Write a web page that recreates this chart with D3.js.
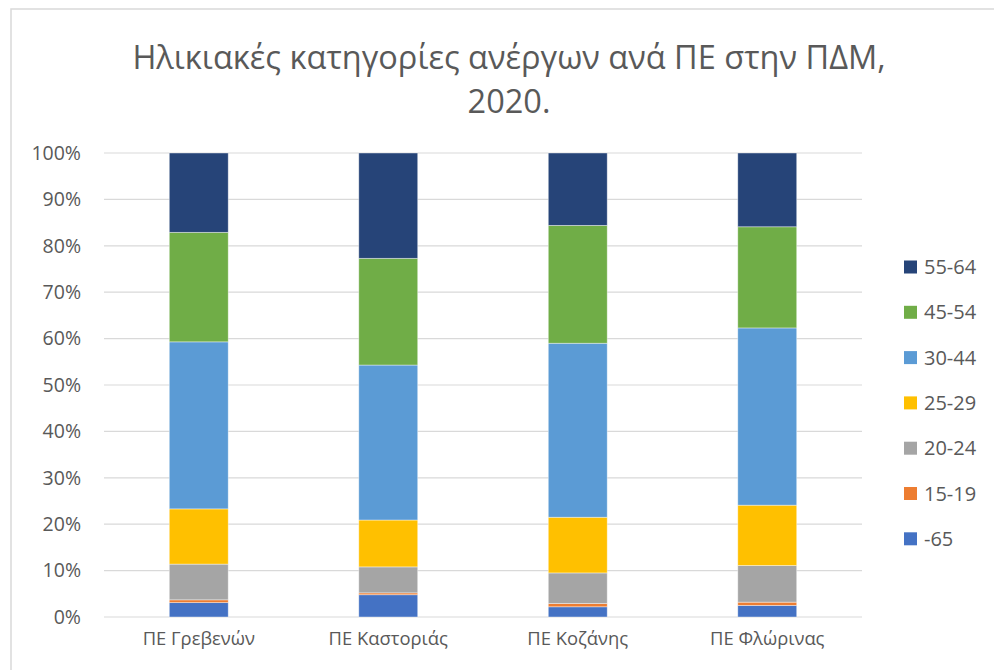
<!DOCTYPE html>
<html>
<head>
<meta charset="utf-8">
<script src="https://cdn.jsdelivr.net/npm/d3@7"></script>
<style>
  body { margin: 0; background: #fff; }
  svg { display: block; font-family: "Open Sans", "Noto Sans", sans-serif; }
</style>
</head>
<body>
<svg id="chart" width="994" height="670"></svg>
<script>
const categories = ["ΠΕ Γρεβενών", "ΠΕ Καστοριάς", "ΠΕ Κοζάνης", "ΠΕ Φλώρινας"];
const seriesNames = ["-65", "15-19", "20-24", "25-29", "30-44", "45-54", "55-64"];
const seriesColors = ["#4472C4", "#ED7D31", "#A5A5A5", "#FFC000", "#5B9BD5", "#70AD47", "#264478"];
// percentage shares per category, in seriesNames order
const s_m65   = [3.1, 4.8, 2.2, 2.5];
const s_15_19 = [0.6, 0.4, 0.7, 0.7];
const s_20_24 = [7.7, 5.6, 6.6, 7.9];
const s_25_29 = [11.9, 10.1, 12.0, 13.0];
const s_30_44 = [36.0, 33.4, 37.5, 38.2];
const s_45_54 = [23.6, 23.0, 25.4, 21.8];
const s_55_64 = [17.1, 22.7, 15.6, 15.9];
const yTicks = [0, 10, 20, 30, 40, 50, 60, 70, 80, 90, 100];
const titleLines = ["Ηλικιακές κατηγορίες ανέργων ανά ΠΕ στην ΠΔΜ,", "2020."];

const seriesValues = [s_m65, s_15_19, s_20_24, s_25_29, s_30_44, s_45_54, s_55_64];
const rows = categories.map((c, i) => {
  const r = { cat: c };
  seriesNames.forEach((s, k) => r[s] = seriesValues[k][i]);
  return r;
});
const stacked = d3.stack().keys(seriesNames)(rows);

const svg = d3.select("#chart");
const textColor = "#595959";

// outer chart border
svg.append("rect").attr("x", 11).attr("y", 9).attr("width", 1000).attr("height", 700)
  .attr("fill", "none").attr("stroke", "#d9d9d9").attr("stroke-width", 1.5);

const plot = { left: 104, right: 862, top: 153, bottom: 617 };
const x = d3.scaleBand().domain(categories).range([plot.left, plot.right])
  .paddingInner(0.689).paddingOuter(0.3445);
const y = d3.scaleLinear().domain([0, 100]).range([plot.bottom, plot.top]);

// gridlines
svg.append("g").selectAll("line").data(yTicks).join("line")
  .attr("x1", plot.left).attr("x2", plot.right)
  .attr("y1", d => y(d)).attr("y2", d => y(d))
  .attr("stroke", "#d9d9d9").attr("stroke-width", 1.2);

// y axis
const yAxis = svg.append("g").attr("transform", `translate(${plot.left},0)`)
  .call(d3.axisLeft(y).tickValues(yTicks).tickFormat(d => d + "%").tickSize(0).tickPadding(23));
yAxis.select(".domain").remove();
yAxis.selectAll("text").attr("fill", textColor).style("font-size", "19.5px")
  .style("font-family", "'Open Sans', sans-serif");

// bars
svg.append("g").selectAll("g").data(stacked).join("g")
  .attr("fill", (d, i) => seriesColors[i])
  .selectAll("rect").data(d => d).join("rect")
  .attr("x", d => x(d.data.cat))
  .attr("width", x.bandwidth())
  .attr("y", d => y(d[1]))
  .attr("height", d => y(d[0]) - y(d[1]))
  .attr("stroke", "#ffffff").attr("stroke-opacity", 0.5).attr("stroke-width", 0.8);

// x axis
const xAxis = svg.append("g").attr("transform", `translate(0,${plot.bottom})`)
  .call(d3.axisBottom(x).tickSize(0).tickPadding(15));
xAxis.select(".domain").remove();
xAxis.selectAll("text").attr("fill", textColor).style("font-size", "18.4px")
  .style("font-family", "'Open Sans', sans-serif");

// title
svg.append("g").selectAll("text").data(titleLines).join("text")
  .attr("x", 509).attr("y", (d, i) => 69 + i * 44)
  .attr("text-anchor", "middle").attr("fill", textColor)
  .style("font-size", "32.5px").style("font-family", "'Open Sans', sans-serif")
  .text(d => d);

// legend (top to bottom: reverse series order)
const legendItems = seriesNames.map((s, i) => ({ name: s, color: seriesColors[i] })).reverse();
const lg = svg.append("g").selectAll("g").data(legendItems).join("g")
  .attr("transform", (d, i) => `translate(904,${267 + i * 45.3})`);
lg.append("rect").attr("x", 0).attr("y", -6.5).attr("width", 13).attr("height", 13)
  .attr("fill", d => d.color);
lg.append("text").attr("x", 20).attr("y", 0).attr("dy", "0.35em")
  .attr("fill", textColor).style("font-size", "20px")
  .style("font-family", "'Open Sans', sans-serif").text(d => d.name);
</script>
</body>
</html>
